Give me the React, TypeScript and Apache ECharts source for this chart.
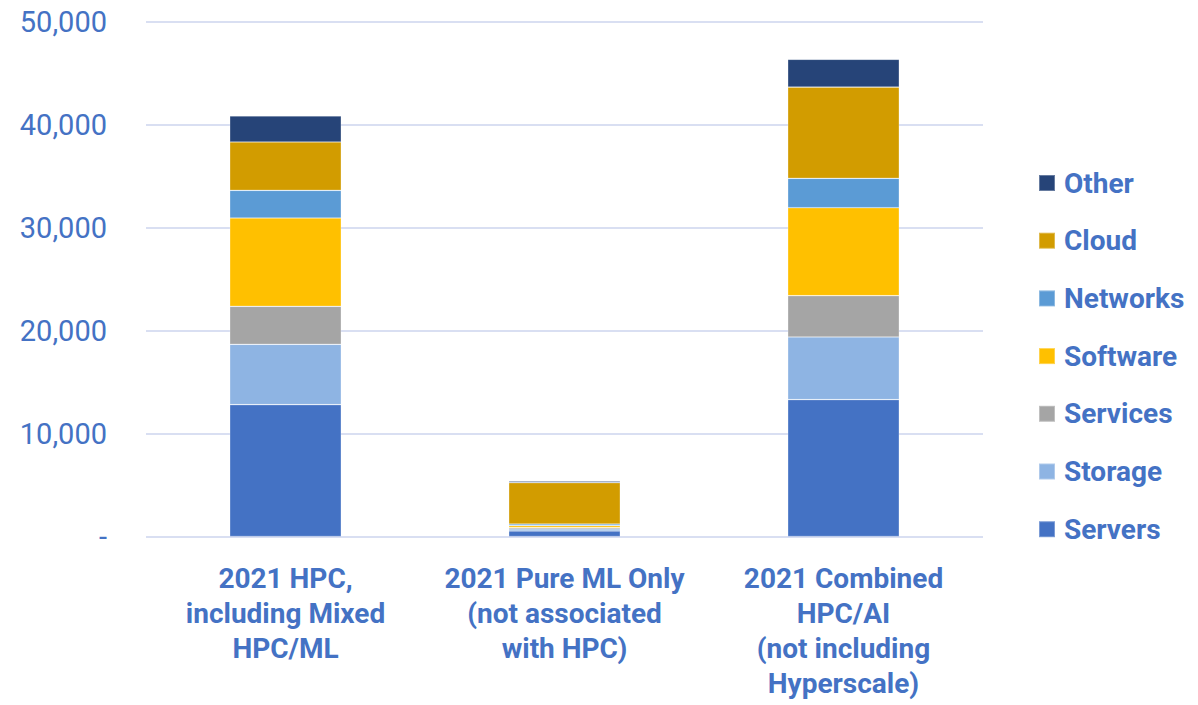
import React, { useEffect, useRef } from "react";
import * as echarts from "echarts";

const categories = [
  "2021 HPC,\nincluding Mixed\nHPC/ML",
  "2021 Pure ML Only\n(not associated\nwith HPC)",
  "2021 Combined\nHPC/AI\n(not including\nHyperscale)",
];

const seriesNames = ["Servers", "Storage", "Services", "Software", "Networks", "Cloud", "Other"];
const servers = [12810, 535, 13300];
const storage = [5870, 195, 6090];
const services = [3690, 125, 4010];
const software = [8580, 195, 8550];
const networks = [2690, 165, 2860];
const cloud = [4700, 4015, 8870];
const other = [2525, 160, 2695];

const seriesValues = [servers, storage, services, software, networks, cloud, other];
const seriesColors = ["#4472C4", "#8EB4E3", "#A5A5A5", "#FFC000", "#5B9BD5", "#D29C00", "#264478"];

const yTicks = [0, 10000, 20000, 30000, 40000, 50000];

const TEXT_COLOR = "#4472C4";
const FONT = "Roboto, 'Noto Sans', sans-serif";

export default function App() {
  const ref = useRef<HTMLDivElement>(null);
  useEffect(() => {
    if (!ref.current) return;
    const chart = echarts.init(ref.current, null, { renderer: "svg" });
    chart.setOption({
      animation: false,
      backgroundColor: "#ffffff",
      grid: { left: 146, right: 215, top: 22, bottom: 168.5 },
      legend: {
        orient: "vertical",
        left: 1033,
        top: 163,
        itemWidth: 16,
        itemHeight: 16,
        itemGap: 27.7,
        icon: "rect",
        data: [...seriesNames].reverse(),
        textStyle: {
          color: TEXT_COLOR,
          fontFamily: FONT,
          fontWeight: "bold",
          fontSize: 28,
          lineHeight: 30,
          padding: [0, 0, 0, 4],
        },
      },
      xAxis: {
        type: "category",
        data: categories,
        axisLine: { show: false },
        axisTick: { show: false },
        axisLabel: {
          color: TEXT_COLOR,
          fontFamily: FONT,
          fontWeight: "bold",
          fontSize: 28,
          lineHeight: 35,
          margin: 24,
          interval: 0,
        },
      },
      yAxis: {
        type: "value",
        min: yTicks[0],
        max: yTicks[yTicks.length - 1],
        interval: yTicks[1] - yTicks[0],
        axisLine: { show: false },
        axisTick: { show: false },
        splitLine: { lineStyle: { color: "#D9DFF2", width: 2 } },
        axisLabel: {
          color: TEXT_COLOR,
          fontFamily: FONT,
          fontSize: 29,
          margin: 39,
          formatter: (v: number) => (v === 0 ? "-" : v.toLocaleString("en-US")),
        },
      },
      series: seriesNames.map((name, i) => ({
        name,
        type: "bar",
        stack: "total",
        barWidth: "40%",
        data: seriesValues[i],
        itemStyle: {
          color: seriesColors[i],
          borderColor: "rgba(255,255,255,0.3)",
          borderWidth: 0.7,
        },
      })),
    });
    return () => chart.dispose();
  }, []);
  return (
    <div
      ref={ref}
      style={{ position: "fixed", left: 0, top: 0, width: 1198, height: 705 }}
    />
  );
}
